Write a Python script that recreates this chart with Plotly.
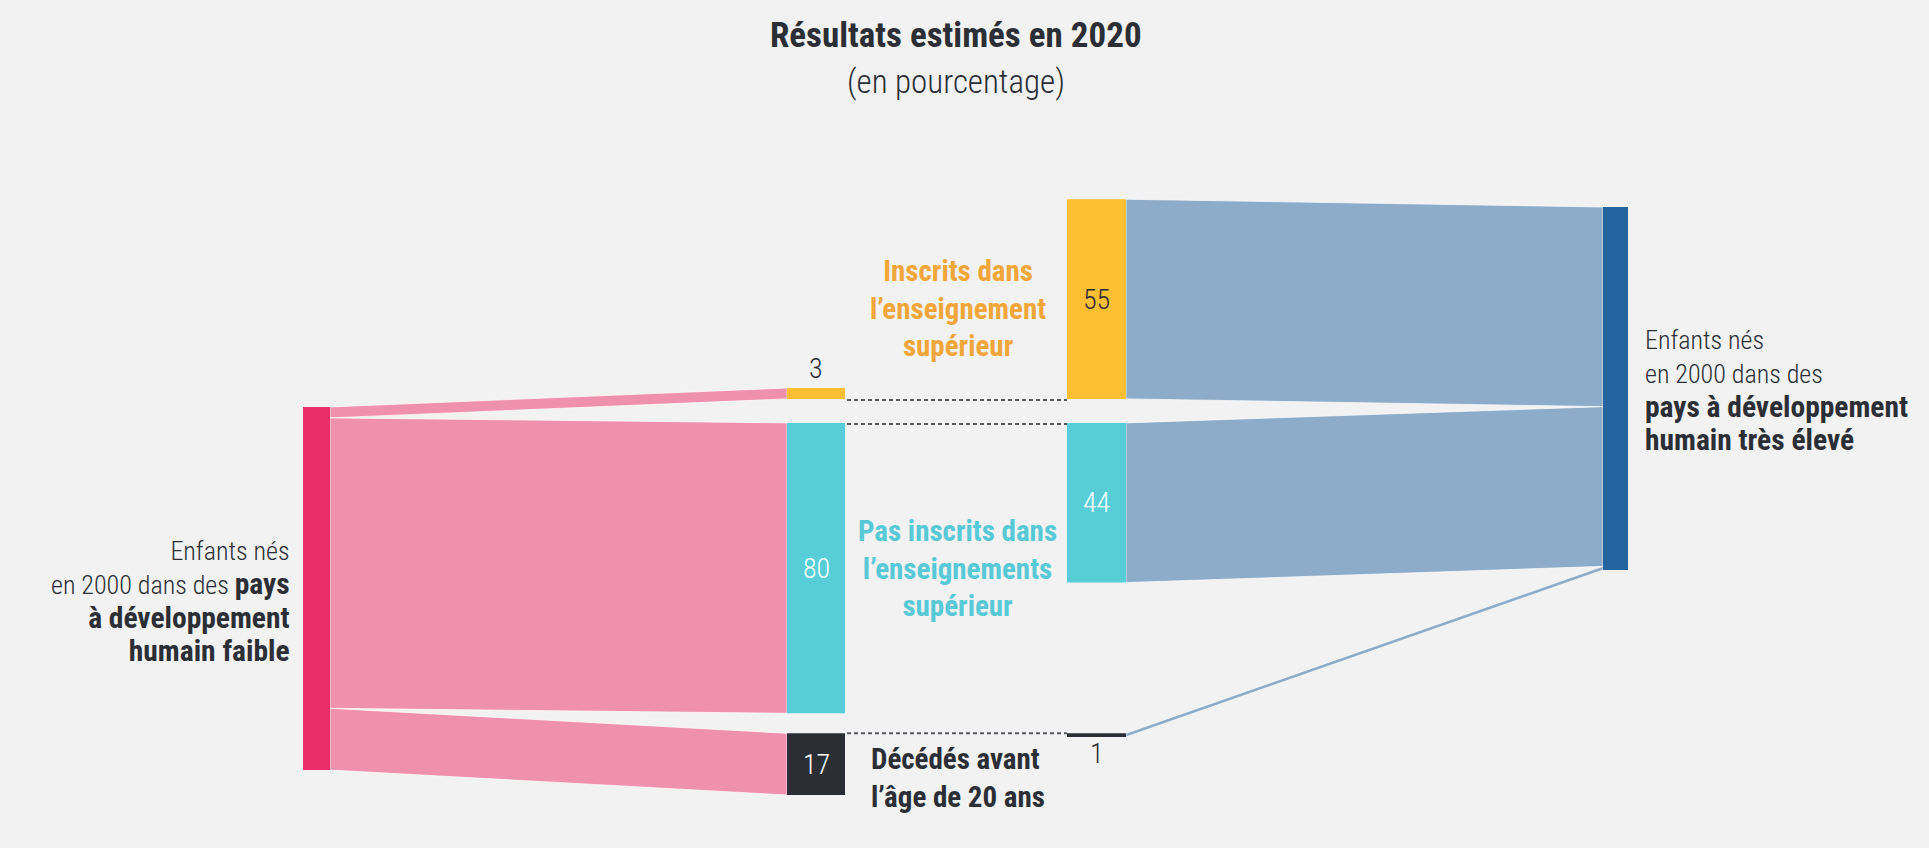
import plotly.graph_objects as go

# --- data (percentages of children born in 2000) ---
outcome_names = [
    "Inscrits dans<br>l\u2019enseignement<br>supérieur",
    "Pas inscrits dans<br>l\u2019enseignements<br>supérieur",
    "Décédés avant<br>l\u2019âge de 20 ans",
]
low_hdi_values = [3, 80, 17]
very_high_hdi_values = [55, 44, 1]

BOLD = '<b><span style="font-size:29.5px">%s</span></b>'
low_hdi_label = ("Enfants nés<br>en 2000 dans des " + BOLD % "pays" + "<br>"
                 + BOLD % "à développement" + "<br>" + BOLD % "humain faible")
high_hdi_label = ("Enfants nés<br>en 2000 dans des<br>" + BOLD % "pays à développement"
                  + "<br>" + BOLD % "humain très élevé")
title_text = "<b>Résultats estimés en 2020</b>"
subtitle_text = "(en pourcentage)"

# --- styles ---
BG = "#F2F2F2"
TEXT = "#2B2E35"
FONT = "Roboto Condensed, Liberation Sans Narrow, DejaVu Sans Condensed, sans-serif"
outcome_colors = ["#FFBF33", "#57CDD8", "#2B2E35"]
outcome_text_colors = ["#F2A63A", "#57C9D6", TEXT]
low_bar_color = "#EC2D6B"
low_flow_color = "#EF90AE"
high_bar_color = "#24649F"
high_flow_color = "#8DACC9"

W, H = 1929, 848
S = 3.63                 # pixels per percentage point
GAPS = [24, 20]          # gaps between outcome rows
LEFT_BAR = (303, 330, 407)
LEFT_MID = (787, 845, 388)
RIGHT_MID = (1067, 1126)
RIGHT_BAR = (1603, 1628, 207)

fig = go.Figure()
shapes = []
annotations = []


def rect(x0, x1, y0, y1, color):
    shapes.append(dict(type="rect", xref="x", yref="y", x0=x0, x1=x1, y0=y0, y1=y1,
                       fillcolor=color, line=dict(width=0), layer="above"))


def flow(xa, ya0, ya1, xb, yb0, yb1, color):
    path = f"M{xa},{ya0} L{xb},{yb0} L{xb},{yb1} L{xa},{ya1} Z"
    shapes.append(dict(type="path", xref="x", yref="y", path=path, fillcolor=color,
                       line=dict(width=1, color="rgba(255,255,255,0.7)"), layer="below"))


def text(x, y, s, size=28, color=TEXT, xanchor="center", align="center", weight=400):
    annotations.append(dict(x=x, y=y, xref="x", yref="y", text=s, showarrow=False,
                            xanchor=xanchor, yanchor="middle", align=align,
                            font=dict(family=FONT, size=size, color=color, weight=weight)))


# left middle column: rows stacked with gaps
left_rows = []
y = LEFT_MID[2]
for i, v in enumerate(low_hdi_values):
    left_rows.append((y, y + v * S))
    y = y + v * S + (GAPS[i] if i < len(GAPS) else 0)

# right middle column: first row aligned on its bottom, the others on their tops
right_rows = []
for i, v in enumerate(very_high_hdi_values):
    if i == 0:
        y1 = left_rows[0][1]
        right_rows.append((y1 - v * S, y1))
    else:
        y0 = left_rows[i][0]
        right_rows.append((y0, y0 + v * S))

# left flows and bar
src = LEFT_BAR[2]
for i, v in enumerate(low_hdi_values):
    flow(LEFT_BAR[1], src, src + v * S, LEFT_MID[0], left_rows[i][0], left_rows[i][1], low_flow_color)
    src += v * S
rect(LEFT_BAR[0], LEFT_BAR[1], LEFT_BAR[2], LEFT_BAR[2] + sum(low_hdi_values) * S, low_bar_color)

# right flows and bar
dst = RIGHT_BAR[2]
for i, v in enumerate(very_high_hdi_values):
    flow(RIGHT_MID[1], right_rows[i][0], right_rows[i][1], RIGHT_BAR[0], dst, dst + v * S, high_flow_color)
    dst += v * S
rect(RIGHT_BAR[0], RIGHT_BAR[1], RIGHT_BAR[2], RIGHT_BAR[2] + sum(very_high_hdi_values) * S, high_bar_color)

# outcome nodes
for i in range(3):
    rect(LEFT_MID[0], LEFT_MID[1], left_rows[i][0], left_rows[i][1], outcome_colors[i])
    rect(RIGHT_MID[0], RIGHT_MID[1], right_rows[i][0], right_rows[i][1], outcome_colors[i])

# dotted connectors between the two middle columns
for yy in [left_rows[0][1] + 1, left_rows[1][0] + 1, left_rows[2][0]]:
    shapes.append(dict(type="line", xref="x", yref="y", x0=LEFT_MID[1] + 2, x1=RIGHT_MID[0],
                       y0=yy, y1=yy, line=dict(color="#55585F", width=2, dash="4px,3px")))

# value labels
lx = (LEFT_MID[0] + LEFT_MID[1]) / 2
rx = (RIGHT_MID[0] + RIGHT_MID[1]) / 2
for i, v in enumerate(low_hdi_values):
    y0, y1 = left_rows[i]
    if y1 - y0 < 30:
        text(lx, y0 - 20, str(v), weight=300)
    else:
        text(lx, (y0 + y1) / 2, str(v), color="#FFFFFF" if i > 0 else TEXT, weight=300)
for i, v in enumerate(very_high_hdi_values):
    y0, y1 = right_rows[i]
    if y1 - y0 < 30:
        text(rx, y1 + 17, str(v), weight=300)
    else:
        text(rx, (y0 + y1) / 2, str(v), color=TEXT if i == 0 else "#FFFFFF", weight=300)

# outcome labels
text(958, (right_rows[0][0] + left_rows[0][1]) / 2 + 9, "<b>" + outcome_names[0] + "</b>",
     size=29, color=outcome_text_colors[0])
text(957, (left_rows[1][0] + left_rows[1][1]) / 2, "<b>" + outcome_names[1] + "</b>",
     size=29, color=outcome_text_colors[1])
text(LEFT_MID[1] + 24, (left_rows[2][0] + left_rows[2][1]) / 2 + 14, "<b>" + outcome_names[2] + "</b>",
     size=29, color=outcome_text_colors[2], xanchor="left", align="left")

# source labels
text(LEFT_BAR[0] - 11, 602, low_hdi_label, size=26, xanchor="right", align="right", weight=300)
text(RIGHT_BAR[1] + 15, 391, high_hdi_label, size=26, xanchor="left", align="left", weight=300)

# title
text(956, 35, title_text, size=35)
text(956, 81, subtitle_text, size=33, weight=300)

fig.update_layout(
    width=W, height=H,
    margin=dict(l=0, r=0, t=0, b=0),
    paper_bgcolor=BG, plot_bgcolor=BG,
    xaxis=dict(range=[0, W], visible=False, fixedrange=True),
    yaxis=dict(range=[H, 0], visible=False, fixedrange=True),
    shapes=shapes,
    annotations=annotations,
    showlegend=False,
)

fig.write_html(
    "out.html",
    config={"displayModeBar": False},
    post_script="document.body.style.margin='0';document.body.style.background='%s';" % BG,
)
